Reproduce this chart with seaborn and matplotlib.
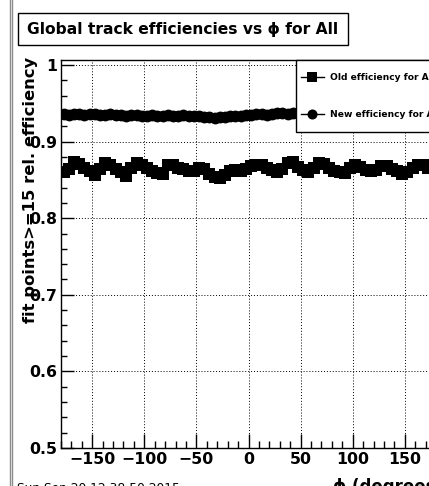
import numpy as np
import pandas as pd
import matplotlib
matplotlib.use("Agg")
import matplotlib.pyplot as plt
from matplotlib.lines import Line2D
from matplotlib.patches import Rectangle
import seaborn as sns

# ---- data ----
phi = [-177.5 + 5 * i for i in range(72)]
old_eff = [
    0.860, 0.864, 0.873, 0.871, 0.866, 0.862, 0.857, 0.864, 0.872, 0.870,
    0.864, 0.860, 0.855, 0.866, 0.872, 0.869, 0.865, 0.862, 0.859, 0.858,
    0.870, 0.869, 0.865, 0.864, 0.862, 0.861, 0.866, 0.864, 0.858, 0.854,
    0.852, 0.856, 0.862, 0.863, 0.862, 0.864, 0.868, 0.869, 0.870, 0.866,
    0.863, 0.860, 0.864, 0.872, 0.873, 0.867, 0.863, 0.860, 0.866, 0.872,
    0.871, 0.865, 0.862, 0.860, 0.859, 0.866, 0.870, 0.867, 0.863, 0.861,
    0.863, 0.868, 0.868, 0.864, 0.861, 0.858, 0.860, 0.866, 0.870, 0.869,
    0.866, 0.865,
]
new_eff = [
    0.936, 0.935, 0.936, 0.936, 0.935, 0.936, 0.936, 0.935, 0.935, 0.936,
    0.935, 0.935, 0.934, 0.935, 0.935, 0.934, 0.934, 0.935, 0.934, 0.934,
    0.935, 0.934, 0.934, 0.935, 0.934, 0.933, 0.933, 0.932, 0.932, 0.931,
    0.932, 0.932, 0.933, 0.934, 0.934, 0.935, 0.935, 0.936, 0.936, 0.935,
    0.936, 0.937, 0.937, 0.936, 0.937, 0.937, 0.937, 0.936, 0.937, 0.937,
    0.936, 0.937, 0.937, 0.936, 0.937, 0.937, 0.936, 0.937, 0.937, 0.936,
    0.937, 0.937, 0.936, 0.937, 0.936, 0.937, 0.937, 0.936, 0.937, 0.937,
    0.936, 0.937,
]
series_labels = ["Old efficiency for All", "New efficiency for All"]
x_ticks = [-150, -100, -50, 0, 50, 100, 150]
y_ticks = [0.5, 0.6, 0.7, 0.8, 0.9, 1.0]
y_tick_labels = ["0.5", "0.6", "0.7", "0.8", "0.9", "1"]
title = "Global track efficiencies vs \u03d5 for All"
x_title = "\u03d5 (degrees)"
y_title = "fit points>=15 rel. efficiency"
date_text = "Sun Sep 20 12:38:50 2015"

W, H = 429, 486
fig = plt.figure(figsize=(W / 100, H / 100), dpi=100)
fig.patch.set_facecolor("white")
plt.rcParams["font.family"] = ["DejaVu Sans"]

ax = fig.add_axes([61 / W, 38 / H, 375 / W, 388 / H])

df_old = pd.DataFrame({"phi": phi, "eff": old_eff})
df_new = pd.DataFrame({"phi": phi, "eff": new_eff})
sns.lineplot(data=df_old, x="phi", y="eff", ax=ax, color="black", marker="s",
             markersize=8.5, markeredgewidth=0, linewidth=1,
             label=series_labels[0], zorder=3)
sns.lineplot(data=df_new, x="phi", y="eff", ax=ax, color="black", marker="o",
             markersize=8.5, markeredgewidth=0, linewidth=1,
             label=series_labels[1], zorder=3)

ax.set_xlim(-180, 180)
ax.set_ylim(0.5, 1.0065)
ax.set_xticks(x_ticks)
ax.set_xticklabels([str(v) if v >= 0 else "\u2212" + str(-v) for v in x_ticks])
ax.set_yticks(y_ticks)
ax.set_yticklabels(y_tick_labels)
ax.set_xticks(np.arange(-180, 181, 10), minor=True)
ax.set_yticks(np.arange(0.5, 1.0001, 0.02), minor=True)
ax.set_xlabel("")
ax.set_ylabel("")
for lab in ax.get_xticklabels() + ax.get_yticklabels():
    lab.set_fontweight("bold")
    lab.set_fontsize(11.3)
ax.tick_params(axis="x", which="major", direction="in", length=10, width=1, pad=3)
ax.tick_params(axis="x", which="minor", direction="in", length=5, width=1)
ax.tick_params(axis="y", which="major", direction="in", length=9, width=1, pad=3)
ax.tick_params(axis="y", which="minor", direction="in", length=4.5, width=1)
for s in ax.spines.values():
    s.set_color("black")
    s.set_linewidth(1)
ax.grid(True, which="major", linestyle=(0, (1, 2)), color="black", linewidth=0.7)

# legend frame (extends past the right edge, as in the reference)
ax.add_patch(Rectangle((296 / W, 1 - 132 / H), 200 / W, 72 / H,
                       transform=fig.transFigure, facecolor="white",
                       edgecolor="black", linewidth=1, zorder=9, clip_on=False))
leg = ax.legend(loc="upper left", bbox_to_anchor=(299 / W, 1 - 71 / H),
                bbox_transform=fig.transFigure, frameon=False,
                prop={"size": 6.6, "weight": "bold"}, handlelength=2.5,
                labelspacing=3.1, borderpad=0.2, borderaxespad=0,
                handletextpad=0.7, markerscale=0.85)
leg.set_zorder(10)

# canvas border lines
for xp in (9.5, 12):
    fig.add_artist(Line2D([xp / W, xp / W], [0, 1], transform=fig.transFigure,
                          color="#8c8c8c", linewidth=1))

# title box
fig.add_artist(Rectangle((18 / W, 1 - 45 / H), 330 / W, 32 / H,
                         transform=fig.transFigure, facecolor="white",
                         edgecolor="black", linewidth=1))
fig.text(183 / W, 1 - 29.5 / H, title, ha="center", va="center",
         fontsize=11.2, fontweight="bold")

fig.text(31 / W, 1 - 57 / H, y_title, rotation=90, ha="center", va="top",
         fontsize=11.8, fontweight="bold")
fig.text(333 / W, 1 - 478 / H, x_title, ha="left", va="top",
         fontsize=12, fontweight="bold")
fig.text(17 / W, 1 - 482 / H, date_text, ha="left", va="top", fontsize=8.8)

fig.savefig("out.png", dpi=100)
